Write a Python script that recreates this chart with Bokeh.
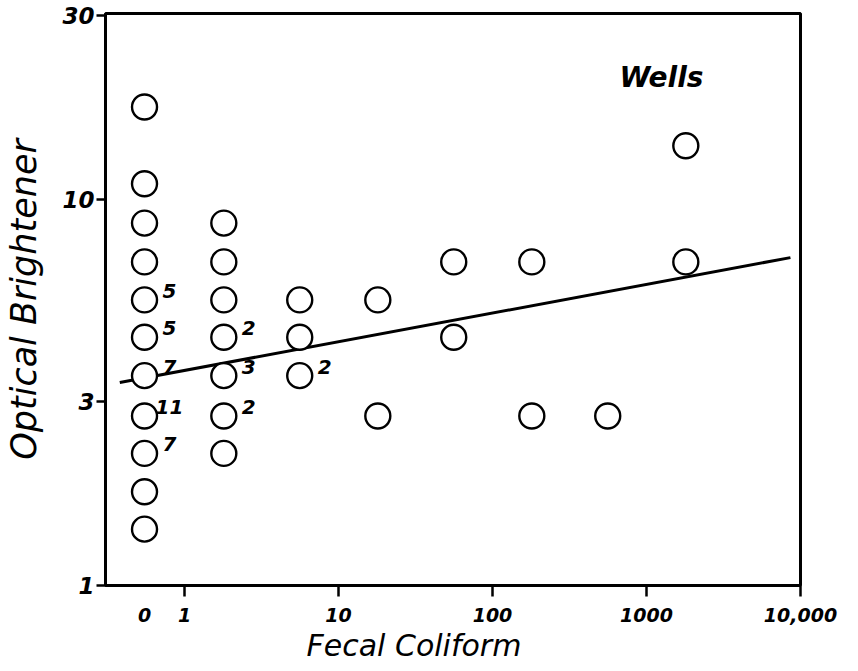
from bokeh.plotting import figure
from bokeh.models import Range1d, FixedTicker, Label, ColumnDataSource, Title
from bokeh.core.properties import value
from bokeh.embed import file_html
from bokeh.resources import INLINE

# ---- data ----
ZERO_PROXY = 0.55   # where the "0" fecal-coliform column is drawn on the log axis

fecal = [0, 0, 0, 0, 0, 0, 0, 0, 0, 0, 0,
         1.8, 1.8, 1.8, 1.8, 1.8, 1.8, 1.8,
         5.6, 5.6, 5.6,
         18, 18,
         56, 56,
         180, 180,
         560,
         1800, 1800]
brightener = [17.4, 11, 8.7, 6.9, 5.5, 4.4, 3.5, 2.75, 2.2, 1.75, 1.4,
              8.7, 6.9, 5.5, 4.4, 3.5, 2.75, 2.2,
              5.5, 4.4, 3.5,
              5.5, 2.75,
              6.9, 4.4,
              6.9, 2.75,
              2.75,
              13.8, 6.9]
counts = [1, 1, 1, 1, 5, 5, 7, 11, 7, 1, 1,
          1, 1, 1, 2, 3, 2, 1,
          1, 1, 2,
          1, 1,
          1, 1,
          1, 1,
          1,
          1, 1]

trend_x = [0.38, 8600]
trend_y = [3.36, 7.08]

x_ticks = [1, 10, 100, 1000, 10000]
x_tick_labels = ["1", "10", "100", "1000", "10,000"]
y_ticks = [1, 3, 10, 30]
y_tick_labels = ["1", "3", "10", "30"]

# ---- figure ----
p = figure(width=850, height=663,
           x_axis_type="log", y_axis_type="log",
           x_range=Range1d(10 ** -0.513, 1e4), y_range=Range1d(1, 30.4),
           output_backend="svg", toolbar_location=None,
           min_border_left=105, min_border_right=50,
           min_border_top=13, min_border_bottom=78)

p.grid.visible = False
p.outline_line_color = "black"
p.outline_line_width = 3
p.background_fill_color = "white"
p.border_fill_color = "white"

for ax in (p.xaxis, p.yaxis):
    ax.axis_line_width = 3
    ax.axis_line_color = "black"
    ax.major_tick_line_width = 2.5
    ax.major_tick_in = 0
    ax.minor_tick_in = 0
    ax.major_label_text_font = "DejaVu Sans"
    ax.major_label_text_font_style = "bold italic"
    ax.major_label_text_color = "black"

# x axis: labels at the "0" column and at the decades; tick marks only at decades
x_overrides = {ZERO_PROXY: "0"}
for t, l in zip(x_ticks, x_tick_labels):
    x_overrides[t] = l
p.xaxis.ticker = FixedTicker(ticks=[ZERO_PROXY] + x_ticks, minor_ticks=x_ticks)
p.xaxis.major_label_overrides = x_overrides
p.xaxis.major_tick_out = 11
p.xaxis.major_tick_line_color = None
p.xaxis.minor_tick_out = 11
p.xaxis.minor_tick_line_width = 2.5
p.xaxis.minor_tick_line_color = "black"
p.xaxis.major_label_standoff = 11
p.xaxis.major_label_text_font_size = "19px"

p.yaxis.ticker = FixedTicker(ticks=y_ticks)
p.yaxis.minor_tick_line_color = None
p.yaxis.major_label_overrides = {t: l for t, l in zip(y_ticks, y_tick_labels)}
p.yaxis.major_tick_out = 9
p.yaxis.major_label_standoff = 2
p.yaxis.major_label_text_font_size = "23px"
p.yaxis.axis_label = "Optical Brightener"
p.yaxis.axis_label_text_font = "DejaVu Sans"
p.yaxis.axis_label_text_font_style = "italic"
p.yaxis.axis_label_text_font_size = "35px"
p.yaxis.axis_label_standoff = 15
p.yaxis.axis_label_text_color = "black"

# x-axis title, left of the frame centre as in the original
p.add_layout(Title(text="Fecal Coliform", align="left", offset=201,
                   standoff=2, text_font="DejaVu Sans",
                   text_font_style="italic", text_font_size="30px",
                   text_color="black"), "below")

# regression line
p.line(trend_x, trend_y, line_color="black", line_width=3)

# points
xs = [ZERO_PROXY if v == 0 else v for v in fecal]
src = ColumnDataSource(dict(x=xs, y=brightener,
                            lab=[str(c) if c > 1 else "" for c in counts]))
p.scatter("x", "y", source=src, marker="circle", size=25,
          fill_color="white", line_color="black", line_width=2.4)
p.text("x", "y", text="lab", source=src, x_offset=25, y_offset=-9,
       text_align="center", text_baseline="middle",
       text_font=value("DejaVu Sans"), text_font_style="bold italic",
       text_font_size="20px", text_color="black")

p.add_layout(Label(x=1250, y=20.7, text="Wells", text_align="center",
                   text_baseline="middle", text_font="DejaVu Sans",
                   text_font_style="bold italic", text_font_size="28px",
                   text_color="black"))

open("out.html", "w").write(file_html(p, INLINE))
